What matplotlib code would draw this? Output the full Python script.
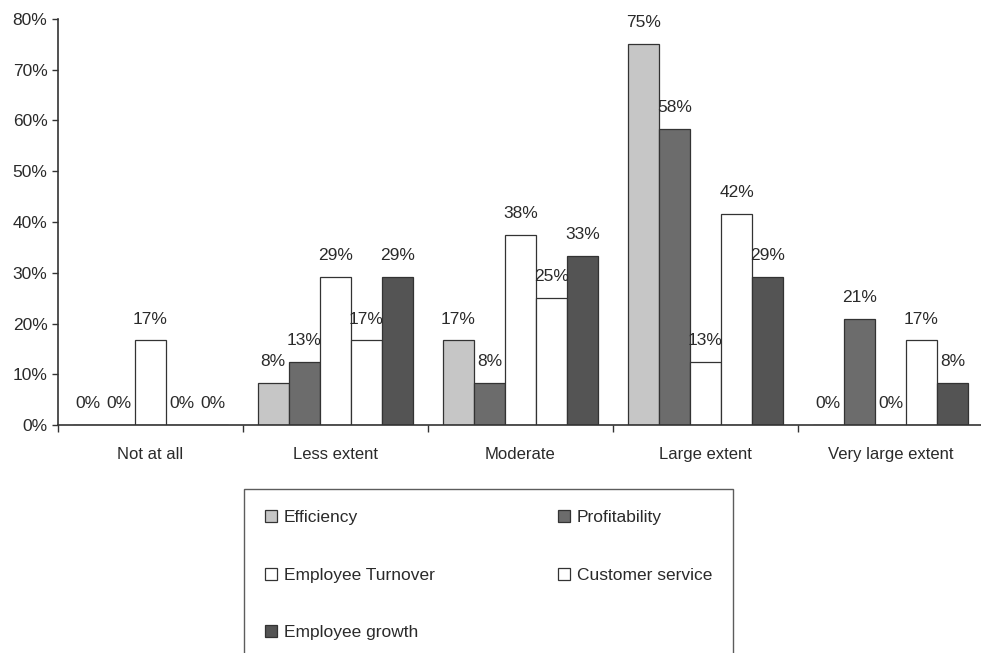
import numpy as np
import matplotlib.pyplot as plt
from matplotlib.ticker import FuncFormatter, FixedLocator

plt.rcParams['font.family'] = ['Liberation Sans', 'DejaVu Sans']

categories = ['Not at all', 'Less extent', 'Moderate', 'Large extent', 'Very large extent']
series_names = ['Efficiency', 'Profitability', 'Employee Turnover', 'Customer service', 'Employee growth']

# percent of respondents per category
efficiency = [0, 8.33, 16.67, 75.0, 0]
profitability = [0, 12.5, 8.33, 58.33, 20.83]
employee_turnover = [16.67, 29.17, 37.5, 12.5, 0]
customer_service = [0, 16.67, 25.0, 41.67, 16.67]
employee_growth = [0, 29.17, 33.33, 29.17, 8.33]

all_series = [efficiency, profitability, employee_turnover, customer_service, employee_growth]
face_colors = ['#c6c6c6', '#6c6c6c', 'white', 'white', '#545454']
text_color = '#2a2a2a'


def pct(v):
    # round half up, like a spreadsheet
    return f'{int(np.floor(v + 0.5))}%'


fig = plt.figure(figsize=(9.81, 6.53), dpi=100)
ax = fig.add_axes([0.059, 0.349, 0.943, 0.622])

n_cat = len(categories)
bar_w = 0.168
x = np.arange(n_cat)
bars = []
for i, (vals, fc) in enumerate(zip(all_series, face_colors)):
    pos = x + (i - 2) * bar_w
    b = ax.bar(pos, vals, width=bar_w, color=fc, edgecolor='#333333', linewidth=0.9,
               label=series_names[i], zorder=2)
    bars.append(b)
    for px, v in zip(pos, vals):
        ax.annotate(pct(v), (px, v), xytext=(0, 10), textcoords='offset points',
                    ha='center', va='bottom', fontsize=12.5, color=text_color)

ax.set_xlim(-0.5, n_cat - 0.5)
ax.set_ylim(0, 80)
ax.set_yticks(np.arange(0, 81, 10))
ax.yaxis.set_major_formatter(FuncFormatter(lambda v, p: f'{v:.0f}%'))
ax.set_xticks(x)
ax.set_xticklabels(categories)
ax.xaxis.set_minor_locator(FixedLocator(np.arange(-0.5, n_cat, 1.0)))
ax.tick_params(axis='x', which='major', length=0, pad=16, labelsize=12, labelcolor=text_color)
ax.tick_params(axis='x', which='minor', length=5, width=1, color='#333333')
ax.tick_params(axis='y', length=4, width=1, color='#333333', labelsize=12.5, labelcolor=text_color)

for s in ['top', 'right']:
    ax.spines[s].set_visible(False)
for s in ['left', 'bottom']:
    ax.spines[s].set_color('#333333')
    ax.spines[s].set_linewidth(1.2)

# legend filled column by column, so reorder for row-wise reading
order = [0, 2, 4, 1, 3]
handles = [bars[i] for i in order]
labels = [series_names[i] for i in order]
leg = fig.legend(handles, labels, ncol=2, loc='upper left',
                 bbox_to_anchor=(244 / 981, 1 - 489 / 653, 489 / 981, 0.0), mode='expand',
                 frameon=True, fancybox=False, edgecolor='#333333', fontsize=12.5,
                 handlelength=0.7, handleheight=0.7, handletextpad=0.4,
                 labelspacing=2.45, borderpad=1.2, borderaxespad=0)
for t in leg.get_texts():
    t.set_color(text_color)
leg.get_frame().set_linewidth(1.0)

fig.savefig('out.png', dpi=100)
